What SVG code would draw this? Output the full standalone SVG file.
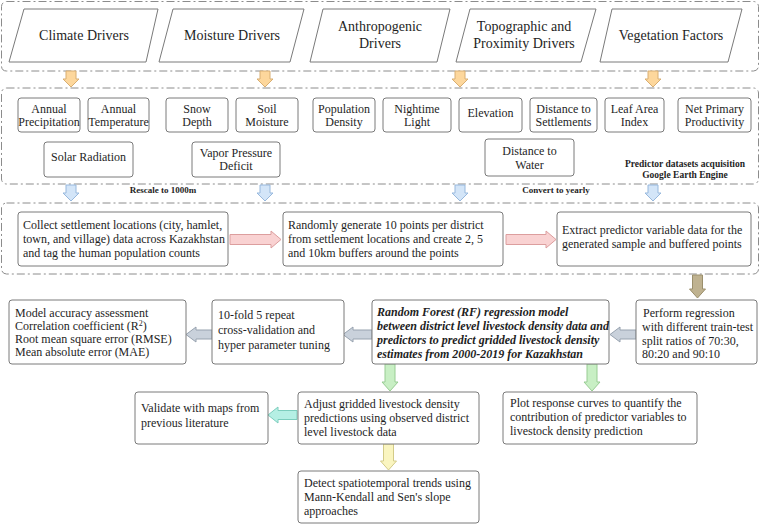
<svg xmlns="http://www.w3.org/2000/svg" width="760" height="524" viewBox="0 0 760 524">
<style>
.grp{fill:none;stroke:#8c8c8c;stroke-width:1;stroke-dasharray:8 3 2 3}
.box{fill:#fff;stroke:#7a7a7a;stroke-width:1}
.par{fill:#fff;stroke:#7a7a7a;stroke-width:1;stroke-linejoin:round}
text{font-family:"Liberation Serif","Times New Roman",serif;fill:#1e1e1e}
.t14{font-size:14px;text-anchor:middle}
.t12c{font-size:12px;text-anchor:middle}
.t12{font-size:12px}
.b{font-size:9.5px;font-weight:bold;text-anchor:middle}
.bi{font-size:12px;font-weight:bold;font-style:italic}
.or{fill:#fdd79c;stroke:#d8ae72}
.bl{fill:#d3e5f8;stroke:#97b8dd}
.pk{fill:#f9d2d2;stroke:#dc9e9e}
.tn{fill:#bfb290;stroke:#9b8f6c}
.gb{fill:#c9d1db;stroke:#97a2af}
.gr{fill:#c8efc4;stroke:#98cc93}
.cy{fill:#b5efe4;stroke:#7ccdbd}
.ye{fill:#faf5c0;stroke:#d3cb88}
</style>
<defs>
<path id="down" d="M-5,0 L5,0 L5,8 L8,8 L0,16 L-8,8 L-5,8 Z"/>
</defs>

<g id="groups">
<rect class="grp" x="1.5" y="1.5" width="757" height="69.5" rx="5"/>
<rect class="grp" x="1.5" y="88" width="757" height="96" rx="5"/>
<rect class="grp" x="1.5" y="203" width="757" height="71" rx="5"/>
</g>

<g id="connectors" stroke-width="1" stroke-linejoin="round">
<use href="#down" class="or" x="71" y="71"/>
<use href="#down" class="or" x="265" y="71"/>
<use href="#down" class="or" x="460" y="71"/>
<use href="#down" class="or" x="653" y="71"/>
<use href="#down" class="bl" x="71" y="185"/>
<use href="#down" class="bl" x="265" y="185"/>
<use href="#down" class="bl" x="460" y="185"/>
<use href="#down" class="bl" x="653" y="185"/>
<path class="pk" d="M230,234.5 L271,234.5 L271,231 L281,239.5 L271,248 L271,244.5 L230,244.5 Z"/>
<path class="pk" d="M506,234.5 L546,234.5 L546,231 L556,239.5 L546,248 L546,244.5 L506,244.5 Z"/>
<path class="tn" d="M692.5,275 L702.5,275 L702.5,289 L705.5,289 L697.5,298 L689.5,289 L692.5,289 Z"/>
<path class="gb" d="M636,330 L620,330 L620,327 L610,334.5 L620,342 L620,339 L636,339 Z"/>
<path class="gb" d="M372,330 L353,330 L353,327 L343,334.5 L353,342 L353,339 L372,339 Z"/>
<path class="gb" d="M212,330 L196,330 L196,327 L186,334.5 L196,342 L196,339 L212,339 Z"/>
<path class="gr" d="M385,364 L395,364 L395,382 L398,382 L390,391 L382,382 L385,382 Z"/>
<path class="gr" d="M587,364 L597,364 L597,382 L600,382 L592,391 L584,382 L587,382 Z"/>
<path class="cy" d="M297,410.5 L278,410.5 L278,407 L268,415 L278,423 L278,419.5 L297,419.5 Z"/>
<path class="ye" d="M383.5,444 L393.5,444 L393.5,461 L396.5,461 L388.5,470 L380.5,461 L383.5,461 Z"/>
</g>

<g id="climate-drivers"><path class="par" d="M24,9 L158,9 L146,62 L9,62 Z"/><text class="t14" x="84" y="40">Climate Drivers</text></g>
<g id="moisture-drivers"><path class="par" d="M173,9 L304,9 L290,62 L159,62 Z"/><text class="t14" x="232" y="40">Moisture Drivers</text></g>
<g id="anthropogenic-drivers"><path class="par" d="M323,9 L450,9 L437,62 L310,62 Z"/><text class="t14" x="380" y="31">Anthropogenic</text><text class="t14" x="380" y="48">Drivers</text></g>
<g id="topographic-drivers"><path class="par" d="M470,9 L596,9 L581,62 L456,62 Z"/><text class="t14" x="524" y="31">Topographic and</text><text class="t14" x="524" y="48">Proximity Drivers</text></g>
<g id="vegetation-factors"><path class="par" d="M612,9 L742,9 L728,62 L600,62 Z"/><text class="t14" x="671" y="40">Vegetation Factors</text></g>

<g id="annual-precipitation"><rect class="box" x="18" y="98" width="62" height="34" rx="3"/><text class="t12c" x="49" y="113">Annual</text><text class="t12c" x="49" y="126">Precipitation</text></g>
<g id="annual-temperature"><rect class="box" x="88" y="98" width="61" height="34" rx="3"/><text class="t12c" x="118.5" y="113">Annual</text><text class="t12c" x="118.5" y="126">Temperature</text></g>
<g id="snow-depth"><rect class="box" x="166" y="98" width="62" height="34" rx="3"/><text class="t12c" x="197" y="113">Snow</text><text class="t12c" x="197" y="126">Depth</text></g>
<g id="soil-moisture"><rect class="box" x="236" y="98" width="62" height="34" rx="3"/><text class="t12c" x="267" y="113">Soil</text><text class="t12c" x="267" y="126">Moisture</text></g>
<g id="population-density"><rect class="box" x="313" y="98" width="62" height="34" rx="3"/><text class="t12c" x="344" y="113">Population</text><text class="t12c" x="344" y="126">Density</text></g>
<g id="nighttime-light"><rect class="box" x="383" y="98" width="68" height="34" rx="3"/><text class="t12c" x="417" y="113">Nightime</text><text class="t12c" x="417" y="126">Light</text></g>
<g id="elevation"><rect class="box" x="459" y="98" width="63" height="34" rx="3"/><text class="t12c" x="490.5" y="117">Elevation</text></g>
<g id="distance-settlements"><rect class="box" x="530" y="98" width="67" height="34" rx="3"/><text class="t12c" x="563.5" y="113">Distance to</text><text class="t12c" x="563.5" y="126">Settlements</text></g>
<g id="leaf-area-index"><rect class="box" x="605" y="98" width="59" height="34" rx="3"/><text class="t12c" x="634.5" y="113">Leaf Area</text><text class="t12c" x="634.5" y="126">Index</text></g>
<g id="net-primary-productivity"><rect class="box" x="678" y="98" width="73" height="34" rx="3"/><text class="t12c" x="714.5" y="113">Net Primary</text><text class="t12c" x="714.5" y="126">Productivity</text></g>
<g id="solar-radiation"><rect class="box" x="44" y="142" width="89" height="35" rx="3"/><text class="t12c" x="88.5" y="161">Solar Radiation</text></g>
<g id="vapor-pressure-deficit"><rect class="box" x="192" y="142" width="88" height="35" rx="3"/><text class="t12c" x="236" y="157">Vapor Pressure</text><text class="t12c" x="236" y="170">Deficit</text></g>
<g id="distance-water"><rect class="box" x="485" y="139" width="89" height="37" rx="3"/><text class="t12c" x="529.5" y="155">Distance to</text><text class="t12c" x="529.5" y="169">Water</text></g>

<g id="labels">
<text class="b" x="685" y="167">Predictor datasets acquisition</text>
<text class="b" x="685" y="178">Google Earth Engine</text>
<text class="b" x="163" y="193" style="font-size:9px">Rescale to 1000m</text>
<text class="b" x="556" y="193" style="font-size:9px">Convert to yearly</text>
</g>

<g id="collect-settlements"><rect class="box" x="18" y="212" width="210" height="54" rx="3"/><text class="t12" x="23" y="229">Collect settlement locations (city, hamlet,</text><text class="t12" x="23" y="243">town, and village) data across Kazakhstan</text><text class="t12" x="23" y="257">and tag the human population counts</text></g>
<g id="random-points"><rect class="box" x="283" y="212" width="220" height="54" rx="3"/><text class="t12" x="288" y="229">Randomly generate 10 points per district</text><text class="t12" x="288" y="243">from settlement locations and create 2, 5</text><text class="t12" x="288" y="257">and 10km buffers around the points</text></g>
<g id="extract-predictors"><rect class="box" x="557" y="212" width="194" height="54" rx="3"/><text class="t12" x="562" y="234">Extract predictor variable data for the</text><text class="t12" x="562" y="248">generated sample and buffered points</text></g>

<g id="model-accuracy"><rect class="box" x="9" y="300" width="177" height="64" rx="3"/><text class="t12" x="15" y="317">Model accuracy assessment</text><text class="t12" x="15" y="330">Correlation coefficient (R<tspan font-size="8" dy="-4">2</tspan><tspan dy="4">)</tspan></text><text class="t12" x="15" y="343">Root mean square error (RMSE)</text><text class="t12" x="15" y="356">Mean absolute error (MAE)</text></g>
<g id="cross-validation"><rect class="box" x="212" y="300" width="132" height="64" rx="3"/><text class="t12" x="218" y="319">10-fold 5 repeat</text><text class="t12" x="218" y="334">cross-validation and</text><text class="t12" x="218" y="349">hyper parameter tuning</text></g>
<g id="random-forest"><rect class="box" x="372" y="300" width="237" height="64" rx="3"/><text class="bi" x="377" y="316">Random Forest (RF) regression model</text><text class="bi" x="377" y="330">between district level livestock density data and</text><text class="bi" x="377" y="344">predictors to predict gridded livestock density</text><text class="bi" x="377" y="358">estimates from 2000-2019 for Kazakhstan</text></g>
<g id="perform-regression"><rect class="box" x="636" y="300" width="121" height="64" rx="3"/><text class="t12" x="640" y="317" xml:space="preserve"> Perform regression</text><text class="t12" x="642" y="331">with different train-test</text><text class="t12" x="642" y="345">split ratios of 70:30,</text><text class="t12" x="642" y="358">80:20 and 90:10</text></g>

<g id="validate-maps"><rect class="box" x="135" y="392" width="133" height="52" rx="3"/><text class="t12" x="141" y="412">Validate with maps from</text><text class="t12" x="141" y="427">previous literature</text></g>
<g id="adjust-predictions"><rect class="box" x="298" y="392" width="181" height="52" rx="3"/><text class="t12" x="304" y="408">Adjust gridded livestock density</text><text class="t12" x="304" y="422">predictions using observed district</text><text class="t12" x="304" y="436">level livestock data</text></g>
<g id="plot-response"><rect class="box" x="503" y="392" width="194" height="52" rx="3"/><text class="t12" x="510" y="407">Plot response curves to quantify the</text><text class="t12" x="510" y="421">contribution of predictor variables to</text><text class="t12" x="510" y="435">livestock density prediction</text></g>
<g id="detect-trends"><rect class="box" x="298" y="471" width="181" height="52" rx="3"/><text class="t12" x="304" y="487">Detect spatiotemporal trends using</text><text class="t12" x="304" y="501">Mann-Kendall and Sen's slope</text><text class="t12" x="304" y="515">approaches</text></g>
</svg>
